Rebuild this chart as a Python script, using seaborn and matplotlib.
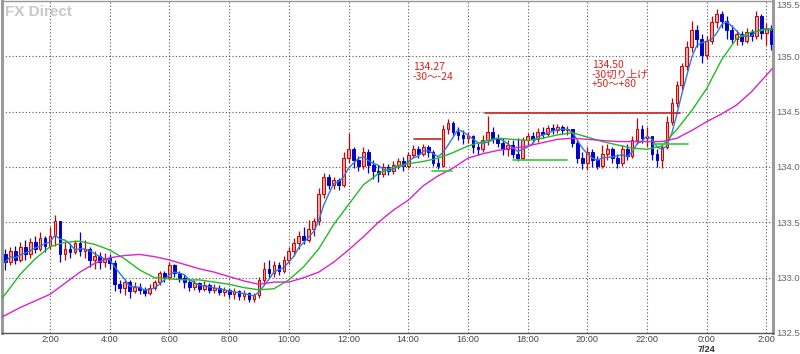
import numpy as np
import pandas as pd
import matplotlib
matplotlib.use("Agg")
import matplotlib.pyplot as plt
import seaborn as sns

# ---------------- data (10-minute candles, start 0:30) ----------------
start_hour = 0.5
first_open = 133.21
close = [133.14, 133.24, 133.16, 133.28, 133.21, 133.32, 133.26, 133.36, 133.29, 133.38,
         133.51, 133.21, 133.26, 133.23, 133.31, 133.24, 133.26, 133.16, 133.20, 133.14,
         133.18, 133.13, 132.94, 132.91, 132.96, 132.88, 132.92, 132.89, 132.86, 132.91,
         132.96, 133.04, 133.01, 133.11, 133.04, 133.00, 132.96, 132.92, 132.95, 132.90,
         132.93, 132.89, 132.91, 132.87, 132.89, 132.85, 132.88, 132.83, 132.86, 132.81,
         132.84, 132.98, 133.08, 133.04, 133.11, 133.06, 133.16, 133.24, 133.31, 133.38,
         133.34, 133.44, 133.51, 133.76, 133.91, 133.84, 133.88, 133.84, 134.08, 134.16,
         134.06, 134.01, 134.14, 134.02, 133.96, 133.94, 134.00, 133.96, 134.02, 134.05,
         134.01, 134.11, 134.16, 134.12, 134.18, 134.14, 134.04, 134.01, 134.34, 134.40,
         134.32, 134.29, 134.26, 134.28, 134.18, 134.16, 134.24, 134.32, 134.26, 134.22,
         134.16, 134.20, 134.12, 134.08, 134.24, 134.28, 134.25, 134.32, 134.30, 134.35,
         134.33, 134.36, 134.33, 134.34, 134.22, 134.08, 134.04, 134.14, 134.06, 134.01,
         134.12, 134.16, 134.08, 134.04, 134.16, 134.10, 134.24, 134.34, 134.26, 134.28,
         134.12, 134.06, 134.18, 134.41, 134.58, 134.74, 134.91, 135.08, 135.24, 135.16,
         135.01, 135.14, 135.31, 135.38, 135.32, 135.24, 135.16, 135.20, 135.14, 135.22,
         135.18, 135.36, 135.21, 135.26, 135.11]
high = [133.26, 133.28, 133.29, 133.32, 133.34, 133.36, 133.38, 133.41, 133.38, 133.46,
        133.57, 133.51, 133.32, 133.31, 133.34, 133.41, 133.34, 133.28, 133.24, 133.23,
        133.22, 133.21, 133.16, 132.98, 132.99, 132.98, 132.96, 132.95, 132.92, 132.94,
        132.98, 133.06, 133.06, 133.14, 133.12, 133.06, 133.02, 132.98, 132.98, 132.96,
        132.97, 132.95, 132.94, 132.93, 132.92, 132.91, 132.91, 132.89, 132.89, 132.87,
        132.86, 133.01, 133.14, 133.16, 133.15, 133.14, 133.20, 133.28, 133.36, 133.42,
        133.46, 133.52, 133.54, 133.81, 133.95, 133.94, 133.91, 133.90, 134.14, 134.31,
        134.18, 134.10, 134.18, 134.16, 134.06, 134.02, 134.04, 134.03, 134.05, 134.08,
        134.09, 134.14, 134.20, 134.19, 134.21, 134.20, 134.15, 134.08, 134.38, 134.43,
        134.42, 134.36, 134.33, 134.32, 134.29, 134.22, 134.29, 134.46, 134.36, 134.30,
        134.26, 134.24, 134.24, 134.26, 134.27, 134.31, 134.32, 134.35, 134.36, 134.38,
        134.39, 134.39, 134.38, 134.37, 134.34, 134.24, 134.14, 134.18, 134.16, 134.10,
        134.20, 134.21, 134.18, 134.12, 134.20, 134.21, 134.28, 134.44, 134.38, 134.36,
        134.26, 134.16, 134.21, 134.46, 134.62, 134.78, 134.94, 135.14, 135.32, 135.28,
        135.20, 135.18, 135.36, 135.43, 135.41, 135.36, 135.28, 135.24, 135.23, 135.26,
        135.25, 135.41, 135.38, 135.30, 135.28]
low = [133.07, 133.11, 133.12, 133.14, 133.16, 133.18, 133.22, 133.24, 133.23, 133.26,
       133.29, 133.14, 133.16, 133.18, 133.21, 133.20, 133.18, 133.10, 133.08, 133.08,
       133.10, 133.08, 132.88, 132.86, 132.84, 132.82, 132.86, 132.85, 132.83, 132.84,
       132.89, 132.93, 132.96, 132.98, 133.01, 132.96, 132.91, 132.88, 132.89, 132.87,
       132.88, 132.86, 132.86, 132.84, 132.83, 132.82, 132.81, 132.80, 132.80, 132.78,
       132.78, 132.82, 132.94, 133.00, 133.01, 133.02, 133.04, 133.12, 133.20, 133.26,
       133.30, 133.32, 133.38, 133.48, 133.72, 133.80, 133.80, 133.79, 133.82, 134.04,
       133.99, 133.96, 133.98, 133.95, 133.89, 133.86, 133.91, 133.93, 133.94, 133.98,
       133.96, 133.99, 134.08, 134.08, 134.10, 134.09, 134.01, 133.98, 134.00, 134.30,
       134.29, 134.24, 134.21, 134.22, 134.13, 134.11, 134.14, 134.20, 134.22, 134.18,
       134.11, 134.10, 134.08, 134.05, 134.06, 134.20, 134.22, 134.23, 134.26, 134.28,
       134.30, 134.31, 134.30, 134.29, 134.18, 134.04, 133.98, 133.97, 134.00, 133.98,
       133.99, 134.06, 134.04, 133.99, 134.01, 134.06, 134.08, 134.21, 134.22, 134.18,
       134.06, 134.00, 133.99, 134.16, 134.38, 134.54, 134.70, 134.88, 135.04, 135.08,
       134.94, 134.98, 135.11, 135.26, 135.26, 135.16, 135.12, 135.10, 135.10, 135.12,
       135.14, 135.16, 135.16, 135.10, 135.06]

# moving-average lines (hour, price)
ma_hours = [0.4, 0.5, 1.0, 1.5, 2.0, 2.5, 3.0, 3.5, 4.0, 4.5, 5.0, 5.5, 6.0, 6.5, 7.0, 7.5,
            8.0, 8.5, 9.0, 9.5, 10.0, 10.5, 11.0, 11.5, 12.0, 12.5, 13.0, 13.5, 14.0, 14.5,
            15.0, 15.5, 16.0, 16.5, 17.0, 17.5, 18.0, 18.5, 19.0, 19.5, 20.0, 20.5, 21.0,
            21.5, 22.0, 22.5, 23.0, 23.5, 24.0, 24.5, 25.0, 25.5, 26.0, 26.2]
ma_mid = [132.82, 132.85, 133.03, 133.17, 133.28, 133.32, 133.33, 133.30, 133.25, 133.17,
          133.07, 133.00, 132.99, 132.98, 132.98, 132.96, 132.94, 132.91, 132.89, 132.90,
          132.98, 133.10, 133.26, 133.48, 133.66, 133.84, 133.94, 134.00, 134.03, 134.05,
          134.08, 134.13, 134.19, 134.23, 134.26, 134.25, 134.24, 134.26, 134.29, 134.31,
          134.27, 134.23, 134.20, 134.17, 134.16, 134.19, 134.34, 134.51, 134.71, 134.97,
          135.16, 135.22, 135.24, 135.25]
ma_long = [132.65, 132.66, 132.73, 132.79, 132.85, 132.95, 133.05, 133.13, 133.18, 133.20,
           133.21, 133.19, 133.16, 133.12, 133.08, 133.05, 133.01, 132.97, 132.94, 132.96,
           132.96, 133.00, 133.05, 133.14, 133.25, 133.37, 133.50, 133.61, 133.70, 133.83,
           133.92, 133.99, 134.08, 134.12, 134.15, 134.17, 134.19, 134.22, 134.25, 134.26,
           134.25, 134.24, 134.23, 134.23, 134.23, 134.23, 134.26, 134.33, 134.41, 134.48,
           134.56, 134.68, 134.83, 134.89]

# horizontal marker lines: level, from hour, to hour, colour
levels = [134.25, 133.96, 134.06, 134.49, 134.21]
level_from = [14.19, 14.80, 17.51, 16.57, 22.20]
level_to = [15.10, 15.47, 19.32, 23.10, 23.37]
level_color = ["#cc2222", "#33cc33", "#33cc33", "#cc2222", "#33cc33"]

tick_hours = [2, 4, 6, 8, 10, 12, 14, 16, 18, 20, 22, 24, 26]
tick_labels = ["2:00", "4:00", "6:00", "8:00", "10:00", "12:00", "14:00", "16:00",
               "18:00", "20:00", "22:00", "0:00", "2:00"]
ytick_vals = [132.5, 133.0, 133.5, 134.0, 134.5, 135.0, 135.5]
ytick_labels = ["132.5", "133.0", "133.5", "134.0", "134.5", "135.0", "135.5"]

# ---------------- build frame ----------------
n = len(close)
t = start_hour + np.arange(n) / 6.0
opn = [first_open] + close[:-1]
df = pd.DataFrame({"t": t, "open": opn, "close": close, "high": high, "low": low})
df["fast"] = df["close"].rolling(4, min_periods=1).mean()
ma_df = pd.DataFrame({"t": ma_hours, "mid": ma_mid, "long": ma_long})

sns.set_theme(style="white")
plt.rcParams["font.family"] = ["Liberation Sans", "DejaVu Sans"]

fig = plt.figure(figsize=(8.0, 3.54), dpi=100)
ax = fig.add_axes([2 / 800, 21 / 354, 771 / 800, 332 / 354])

# grid
for x in tick_hours:
    ax.axvline(x, color="#555555", lw=0.8, ls=(0, (1, 2)), zorder=0)
for y in ytick_vals:
    ax.axhline(y, color="#555555", lw=0.8, ls=(0, (1, 2)), zorder=0)

up = df["close"] >= df["open"]
w = 0.55 / 6.0
for is_up, ecol, fcol in [(True, "#cc0000", "#f2a0a0"), (False, "#0000cc", "#0000cc")]:
    d = df[up == is_up]
    ax.vlines(d["t"], d["low"], d["high"], color=ecol, lw=0.9, zorder=2)
    body_lo = np.minimum(d["open"], d["close"])
    body_h = np.maximum(np.abs(d["close"] - d["open"]), 0.008)
    ax.bar(d["t"], body_h, bottom=body_lo, width=w, color=fcol, edgecolor=ecol,
           linewidth=0.7, zorder=3)

sns.lineplot(data=df, x="t", y="fast", ax=ax, color="#2a7be0", lw=1.0, zorder=4,
             estimator=None, sort=False)
sns.lineplot(data=ma_df, x="t", y="mid", ax=ax, color="#22bb22", lw=1.0, zorder=4,
             estimator=None, sort=False)
sns.lineplot(data=ma_df, x="t", y="long", ax=ax, color="#dd22cc", lw=1.0, zorder=4,
             estimator=None, sort=False)

for lv, a, b, c in zip(levels, level_from, level_to, level_color):
    ax.plot([a, b], [lv, lv], color=c, lw=1.2, zorder=5)

ax.set_xlim(0.39, 26.22)
ax.set_ylim(132.5, 135.5)
ax.set_xlabel("")
ax.set_ylabel("")
ax.set_xticks(tick_hours)
ax.set_xticklabels(tick_labels, fontsize=6.6, color="#444444")
ax.yaxis.tick_right()
ax.set_yticks(ytick_vals)
ax.set_yticklabels(ytick_labels, fontsize=6.8, color="#666666")
ax.tick_params(axis="x", length=1, pad=0.5, color="#555555")
ax.tick_params(axis="y", length=1, pad=1.5, color="#999999")
for lab in ax.get_yticklabels():
    lab.set_va("center_baseline")
ax.get_yticklabels()[-1].set_va("top")

for side in ["left", "right"]:
    ax.spines[side].set_color("#9a9a9a")
    ax.spines[side].set_linewidth(2.2)
ax.spines["top"].set_color("#999999")
ax.spines["top"].set_linewidth(1.0)
ax.spines["bottom"].set_color("#555555")
ax.spines["bottom"].set_linewidth(1.0)

x_frac = (24 - 0.39) / (26.22 - 0.39) * 771 / 800 + 2 / 800
fig.text(x_frac, 2.0 / 354, "7/24", ha="center", va="baseline",
         fontsize=6.6, fontweight="bold", color="#333333")

ax.text(0.004, 0.988, "FX Direct", transform=ax.transAxes, ha="left", va="top",
        fontsize=11, fontweight="bold", color="#c8c8c8")

cjk = ["Noto Sans CJK JP", "DejaVu Sans"]
ax.text(14.15, 134.95, "134.27\n-30〜-24", ha="left", va="top", fontsize=7.5,
        color="#dd2222", family=cjk, linespacing=1.0)
ax.text(20.15, 134.97, "134.50\n-30切り上げ\n+50〜+80", ha="left", va="top", fontsize=7.5,
        color="#dd2222", family=cjk, linespacing=0.95)

fig.savefig("out.png", dpi=100)
